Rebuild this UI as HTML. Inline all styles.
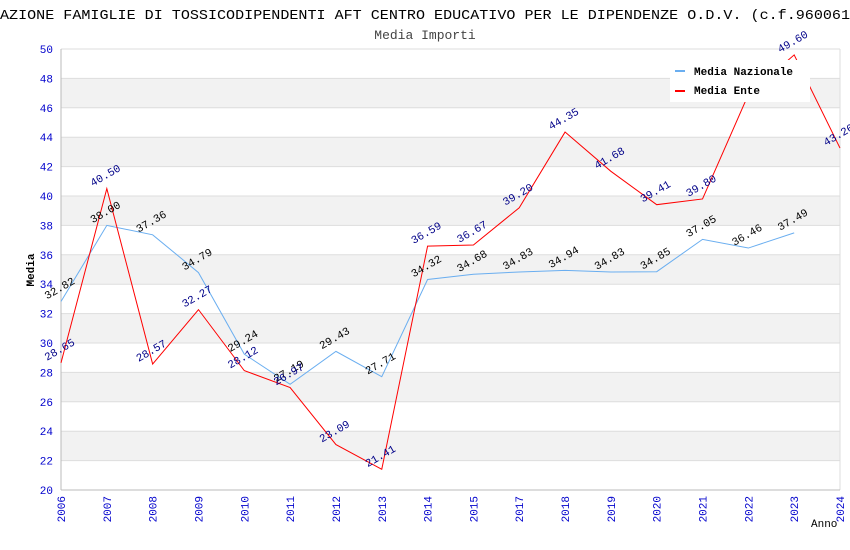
<!DOCTYPE html>
<html><head><meta charset="utf-8"><style>body{margin:0;background:#fff}svg{display:block}</style></head>
<body>
<svg id="c" width="850" height="550" xmlns="http://www.w3.org/2000/svg" font-family="Liberation Mono, monospace">
<text x="0" y="19" font-size="14" textLength="850" lengthAdjust="spacingAndGlyphs">AZIONE FAMIGLIE DI TOSSICODIPENDENTI AFT CENTRO EDUCATIVO PER LE DIPENDENZE O.D.V. (c.f.960061</text>
<text x="425" y="39" font-size="13" text-anchor="middle" fill="#444">Media Importi</text>
<g id="bands"></g><g id="grid"></g><g id="axes"></g><g id="series"></g><g id="labels"></g>
<text x="34" y="270" font-size="11" font-weight="bold" text-anchor="middle" transform="rotate(-90 34 270)">Media</text>
<text x="811" y="527" font-size="11">Anno</text>
<g>
<rect x="670" y="60" width="140" height="42" fill="#fff"/>
<rect x="675" y="70" width="10" height="2" fill="#6aaef0"/>
<text x="694" y="75" font-size="11" font-weight="bold">Media Nazionale</text>
<rect x="675" y="90" width="10" height="2" fill="#f00"/>
<text x="694" y="94" font-size="11" font-weight="bold">Media Ente</text>
</g>
</svg>
<script>
const years=["2006","2007","2008","2009","2010","2011","2012","2013","2014","2015","2017","2018","2019","2020","2021","2022","2023","2024"];
const nazionale=[32.82,38.00,37.36,34.79,29.24,27.19,29.43,27.71,34.32,34.68,34.83,34.94,34.83,34.85,37.05,36.46,37.49,null];
const ente=[28.65,40.50,28.57,32.27,28.12,26.97,23.09,21.41,36.59,36.67,39.20,44.35,41.68,39.41,39.80,46.90,49.60,43.26];
const yTicks=[20,22,24,26,28,30,32,34,36,38,40,42,44,46,48,50];
const X0=61,X1=840,Y0=490,Y1=49,ymin=20,ymax=50;
const NS="http://www.w3.org/2000/svg";
const xs=i=>X0+i*(X1-X0)/(years.length-1);
const ys=v=>Y0-(v-ymin)*(Y0-Y1)/(ymax-ymin);
function mk(t,a,p){const e=document.createElementNS(NS,t);for(const k in a)e.setAttribute(k,a[k]);document.getElementById(p).appendChild(e);return e;}
for(let k=0;k<yTicks.length-1;k++){
 if(k%2===1){const r=mk('rect',{x:X0,y:ys(yTicks[k+1]),width:X1-X0,height:ys(yTicks[k])-ys(yTicks[k+1]),fill:'#f2f2f2'},'bands');
 
 }
}
yTicks.forEach(v=>{
 const l=mk('line',{x1:X0,x2:X1,y1:ys(v),y2:ys(v),stroke:'#ddd'},'grid');
 
 
 const t=mk('text',{x:X0-8,y:ys(v)+4,'font-size':11,fill:'#00c','text-anchor':'end'},'axes');
 
 
 t.textContent=v;
});
mk('line',{x1:X0,x2:X0,y1:Y1,y2:Y0,stroke:'#bbb'},'axes');
mk('line',{x1:X1,x2:X1,y1:Y1,y2:Y0,stroke:'#ddd'},'axes');
mk('line',{x1:X0,x2:X1,y1:Y0,y2:Y0,stroke:'#bbb'},'axes');
years.forEach((y,i)=>{
 const x=xs(i);
 const t=mk('text',{x:x+4,y:Y0+6,'font-size':11,fill:'#00c','text-anchor':'end',transform:`rotate(-90 ${x+4} ${Y0+6})`},'axes');
 
 
 t.textContent=y;
});
function series(data,color,lc,name){
 let d='';data.forEach((v,i)=>{if(v!==null)d+=(d?'L':'M')+xs(i)+','+ys(v);});
 const p=mk('path',{d:d,fill:'none',stroke:color,'stroke-width':1},'series');
 
 
 data.forEach((v,i)=>{if(v===null)return;
  const x=xs(i)-14,y=ys(v)-2;
  const t=mk('text',{x:x,y:y,'font-size':11,fill:lc,transform:`rotate(-30 ${x} ${y})`},'labels');
  
  
  t.textContent=v.toFixed(2);});
}
series(nazionale,'#6aaef0','#000','nazionale');
series(ente,'#f00','#008','ente');
</script>
</body></html>
